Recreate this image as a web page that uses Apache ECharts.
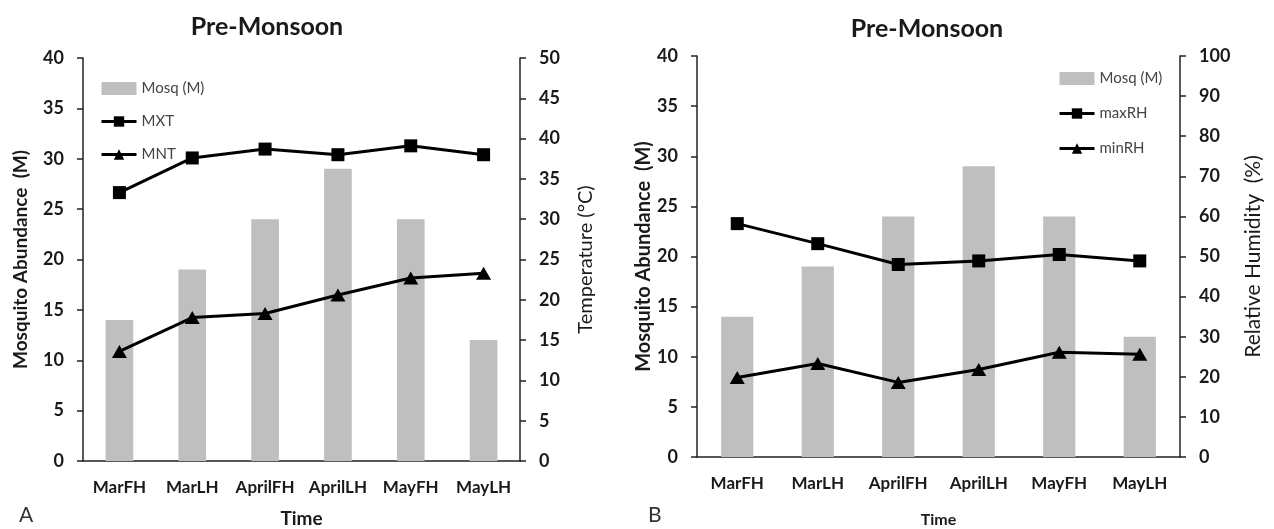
<!DOCTYPE html>
<html>
<head>
<meta charset="utf-8">
<script src="https://cdn.jsdelivr.net/npm/echarts@6/dist/echarts.min.js"></script>
<style>
  html, body { margin: 0; padding: 0; background: #fff; }
  #chart { width: 1274px; height: 529px; }
</style>
</head>
<body>
<div id="chart"></div>
<script>
// Pre-monsoon half-month periods
const periods = ['MarFH', 'MarLH', 'AprilFH', 'AprilLH', 'MayFH', 'MayLH'];

// Mosquito abundance (M), shared by both panels
const mosq = [14, 19, 24, 29, 24, 12];

// Panel A: temperature (°C)
const maxTemp = [33.3, 37.6, 38.7, 38.0, 39.1, 38.0];
const minTemp = [13.6, 17.8, 18.3, 20.6, 22.7, 23.3];

// Panel B: relative humidity (%)
const maxRH = [58.2, 53.2, 48.0, 48.9, 50.5, 48.9];
const minRH = [19.8, 23.3, 18.6, 21.8, 26.1, 25.6];

const FONT = 'Lato, "Open Sans", sans-serif';
const INK = '#1a1a1a';
const BAR = '#bfbfbf';

function valueAxis(grid, pos, max, interval, name, nameGap, nameStyle) {
  return {
    type: 'value', gridIndex: grid, position: pos,
    min: 0, max: max, interval: interval,
    name: name, nameLocation: 'middle', nameRotate: 90, nameGap: nameGap,
    nameTextStyle: Object.assign({ fontFamily: FONT, color: INK }, nameStyle),
    axisLine: { show: true, lineStyle: { color: '#222', width: 1.5 } },
    axisTick: { show: true, inside: false, length: 6, lineStyle: { color: '#222', width: 1.5 } },
    axisLabel: { margin: 19, fontFamily: FONT, fontSize: 18, fontWeight: 'bold', color: INK },
    splitLine: { show: false }
  };
}

function catAxis(grid, nameSize, nameGap) {
  return {
    type: 'category', gridIndex: grid, data: periods,
    name: 'Time', nameLocation: 'middle', nameGap: nameGap,
    nameTextStyle: { fontFamily: FONT, fontSize: nameSize, fontWeight: 'bold', color: INK },
    axisLine: { lineStyle: { color: '#222', width: 1.5 } },
    axisTick: { show: false },
    axisLabel: { interval: 0, margin: 18, fontFamily: FONT, fontSize: 17, fontWeight: 'bold', color: INK }
  };
}

function lineSeries(name, data, xi, yi, symbol, size) {
  return {
    name: name, type: 'line', data: data,
    xAxisIndex: xi, yAxisIndex: yi,
    symbol: symbol, symbolSize: size,
    lineStyle: { color: '#000', width: 3 },
    itemStyle: { color: '#000', borderWidth: 0 },
    z: 5
  };
}

const legendText = { fontFamily: FONT, fontSize: 15, color: '#444' };

const option = {
  animation: false,
  backgroundColor: '#fff',
  title: [
    { text: 'Pre-Monsoon', left: 262, top: 9, textAlign: 'center',
      textStyle: { fontFamily: FONT, fontSize: 25, fontWeight: 'bold', color: INK } },
    { text: 'Pre-Monsoon', left: 922, top: 11, textAlign: 'center',
      textStyle: { fontFamily: FONT, fontSize: 25, fontWeight: 'bold', color: INK } },
    { text: 'A', left: 14, top: 500, textStyle: { fontFamily: FONT, fontSize: 21, fontWeight: 'normal', color: '#333' } },
    { text: 'B', left: 643, top: 500, textStyle: { fontFamily: FONT, fontSize: 21, fontWeight: 'normal', color: '#333' } }
  ],
  legend: [
    { orient: 'vertical', left: 95, top: 76, itemWidth: 35, itemHeight: 13, itemGap: 18,
      textStyle: legendText, itemStyle: { borderWidth: 0 }, lineStyle: { width: 3 },
      data: [ { name: 'Mosq (M)', icon: 'rect' }, 'MXT', 'MNT' ] },
    { orient: 'vertical', left: 1053, top: 66, itemWidth: 35, itemHeight: 13, itemGap: 20,
      textStyle: legendText, itemStyle: { borderWidth: 0 }, lineStyle: { width: 3 },
      data: [ { name: 'Mosq (M) ', icon: 'rect' }, 'maxRH', 'minRH' ] }
  ],
  grid: [
    { left: 83, right: 754, top: 58, bottom: 68, outerBoundsMode: 'none', containLabel: false },
    { left: 697, right: 94, top: 56, bottom: 72, outerBoundsMode: 'none', containLabel: false }
  ],
  xAxis: [catAxis(0, 19, 48), catAxis(1, 16, 55)],
  yAxis: [
    valueAxis(0, 'left', 40, 5, 'Mosquito Abundance  (M)', 53, { fontSize: 19, fontWeight: 'bold' }),
    valueAxis(0, 'right', 50, 5, 'Temperature (°C)', 56, { fontSize: 20, fontWeight: 'normal' }),
    valueAxis(1, 'left', 40, 5, 'Mosquito Abundance  (M)', 43, { fontSize: 20, fontWeight: 'bold' }),
    valueAxis(1, 'right', 100, 10, 'Relative Humidity  (%)', 63, { fontSize: 21, fontWeight: 'normal' })
  ],
  series: [
    { name: 'Mosq (M)', type: 'bar', data: mosq, xAxisIndex: 0, yAxisIndex: 0,
      barWidth: '38%', itemStyle: { color: BAR } },
    lineSeries('MXT', maxTemp, 0, 1, 'rect', 13),
    lineSeries('MNT', minTemp, 0, 1, 'triangle', [15, 13]),
    { name: 'Mosq (M) ', type: 'bar', data: mosq, xAxisIndex: 1, yAxisIndex: 2,
      barWidth: '40%', itemStyle: { color: BAR } },
    lineSeries('maxRH', maxRH, 1, 3, 'rect', 13),
    lineSeries('minRH', minRH, 1, 3, 'triangle', [15, 13])
  ]
};

const chart = echarts.init(document.getElementById('chart'), null, { renderer: 'canvas' });
chart.setOption(option);
</script>
</body>
</html>
